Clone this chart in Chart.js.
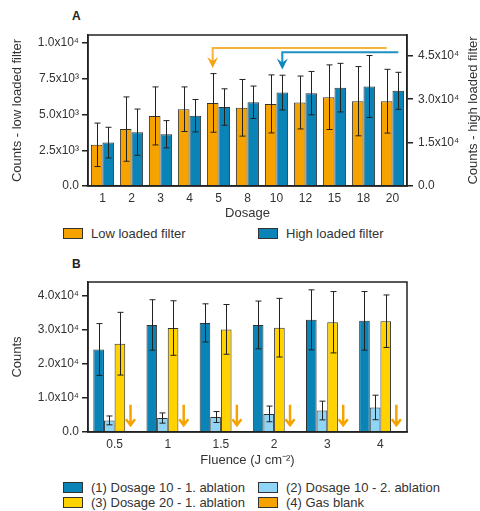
<!DOCTYPE html>
<html>
<head>
<meta charset="utf-8">
<script src="https://cdn.jsdelivr.net/npm/chart.js@4"></script>
<style>
    body { margin: 0; background: #fff; font-family: "Liberation Sans", Arial, sans-serif; color: #333; }
    #wrap { position: relative; width: 480px; height: 511px; }
    canvas { position: absolute; left: 0; }
    .panel { position: absolute; font-weight: bold; font-size: 12px; color: #222; }
    .leg { position: absolute; font-size: 13px; line-height: 15px; height: 15px; white-space: nowrap; display: flex; align-items: center; }
    .leg i { display: inline-block; box-sizing: border-box; width: 20px; height: 11px; border: 1px solid #333; margin-right: 8px; }
</style>
</head>
<body>
<div id="wrap">
    <div class="panel" style="left:72px; top:9px;">A</div>
    <canvas id="chartA" width="480" height="225" style="top:0;"></canvas>
    <div class="leg" style="left:63px; top:226px;"><i style="background:#F6A300"></i>Low loaded filter</div>
    <div class="leg" style="left:258px; top:226px;"><i style="background:#0A84B6"></i>High loaded filter</div>

    <div class="panel" style="left:72px; top:257px;">B</div>
    <canvas id="chartB" width="480" height="227" style="top:245px;"></canvas>
    <div class="leg" style="left:63px; top:480px;"><i style="background:#0A84B6"></i>(1) Dosage 10 - 1. ablation</div>
    <div class="leg" style="left:258px; top:480px;"><i style="background:#8FD6F6"></i>(2) Dosage 10 - 2. ablation</div>
    <div class="leg" style="left:63px; top:495px;"><i style="background:#FFD200"></i>(3) Dosage 20 - 1. ablation</div>
    <div class="leg" style="left:258px; top:495px;"><i style="background:#F6A300"></i>(4) Gas blank</div>
</div>
<script>
// Panel A - counts per dosage
const dosages = ['1', '2', '3', '4', '5', '8', '10', '12', '15', '18', '20'];
const lowLoaded = [2880, 3980, 4900, 5370, 5810, 5470, 5740, 5840, 6210, 5930, 5930];
const lowLoadedErr = [1520, 2250, 2030, 1560, 2050, 1980, 2030, 1850, 2260, 2420, 2230];
const highLoaded = [15000, 18600, 17900, 24300, 27300, 28950, 32300, 32100, 34000, 34400, 32900];
const highLoadedErr = [5300, 8000, 4700, 5600, 6300, 5600, 6000, 7500, 8400, 10700, 6400];
const lowTicks = [0, 2500, 5000, 7500, 10000];
const highTicks = [0, 15000, 30000, 45000];
// dosage where each series levels off (marked with an arrow)
const plateauStart = ['5', '10'];

// Panel B - counts per fluence
const fluences = ['0.5', '1', '1.5', '2', '3', '4'];
const dose10First = [24200, 31400, 32000, 31400, 32900, 32600];
const dose10FirstErr = [7600, 7400, 5600, 7000, 8800, 8600];
const dose10Second = [3400, 4100, 4400, 5300, 6300, 7200];
const dose10SecondErr = [1300, 1500, 1600, 2300, 2750, 3600];
const dose20First = [25900, 30500, 30100, 30600, 32200, 32500];
const dose20FirstErr = [9200, 8000, 7300, 8600, 9000, 7700];
const gasBlank = [8000, 8000, 8000, 8000, 8000, 8000]; // below detection, drawn as arrows
const fluenceTicks = [0, 10000, 20000, 30000, 40000];

const ORANGE = '#F6A300';
const BLUE = '#0A84B6';
const LIGHT_BLUE = '#8FD6F6';
const YELLOW = '#FFD200';
const INK = '#222';
const TEXT = '#333';

Chart.defaults.font.family = "'Liberation Sans', Arial, sans-serif";
Chart.defaults.color = TEXT;

const SUP = { 3: '\u00B3', 4: '\u2074' };
const sci = (v) => {
    if (v === 0) return '0.0';
    const e = Math.floor(Math.log10(v) + 1e-9);
    return (v / Math.pow(10, e)).toFixed(1) + 'x10' + SUP[e];
};

// box around the plot area
const frame = {
    id: 'frame',
    afterDraw(chart) {
        const { ctx, chartArea: a } = chart;
        ctx.save();
        ctx.strokeStyle = INK;
        ctx.lineWidth = 1.5;
        ctx.strokeRect(a.left, a.top, a.right - a.left, a.bottom - a.top);
        ctx.restore();
    }
};

// right axis title, reading bottom-to-top like the left one
const rightTitle = {
    id: 'rightTitle',
    afterDraw(chart, args, opts) {
        const { ctx, chartArea: a } = chart;
        ctx.save();
        ctx.translate(chart.width - 7, (a.top + a.bottom) / 2);
        ctx.rotate(-Math.PI / 2);
        ctx.font = "13px 'Liberation Sans', Arial, sans-serif";
        ctx.fillStyle = TEXT;
        ctx.textAlign = 'center';
        ctx.textBaseline = 'middle';
        ctx.fillText(opts.text, 0, 0);
        ctx.restore();
    }
};

// symmetric error bars from dataset.errors
const errorBars = {
    id: 'errorBars',
    afterDatasetsDraw(chart) {
        const ctx = chart.ctx;
        chart.data.datasets.forEach((ds, i) => {
            if (!ds.errors) return;
            const meta = chart.getDatasetMeta(i);
            const scale = chart.scales[meta.yAxisID];
            ctx.save();
            ctx.strokeStyle = INK;
            ctx.lineWidth = 1;
            meta.data.forEach((bar, j) => {
                const v = ds.data[j], e = ds.errors[j];
                const yTop = scale.getPixelForValue(v + e);
                const yBot = scale.getPixelForValue(Math.max(v - e, 0));
                const x = Math.round(bar.x) + 0.5;
                ctx.beginPath();
                ctx.moveTo(x, yTop); ctx.lineTo(x, yBot);
                ctx.moveTo(x - 3, yTop); ctx.lineTo(x + 3, yTop);
                ctx.moveTo(x - 3, yBot); ctx.lineTo(x + 3, yBot);
                ctx.stroke();
            });
            ctx.restore();
        });
    }
};

// bent arrows in panel A: from the last dosage back to the plateau start
const plateauArrows = {
    id: 'plateauArrows',
    afterDatasetsDraw(chart) {
        const ctx = chart.ctx;
        const y = chart.scales.y;
        const styles = [
            { line: '#F7B43C', head: '#F5A418', level: 9650, tip: 8250 },
            { line: '#1E90C4', head: '#0F86BA', level: 9350, tip: 8150 }
        ];
        plateauStart.forEach((dose, i) => {
            const meta = chart.getDatasetMeta(i);
            const xs = meta.data[dosages.indexOf(dose)].x;
            const xe = meta.data[meta.data.length - 1].x;
            const yl = y.getPixelForValue(styles[i].level);
            const yt = y.getPixelForValue(styles[i].tip);
            ctx.save();
            ctx.strokeStyle = styles[i].line;
            ctx.lineWidth = 2;
            ctx.beginPath();
            ctx.moveTo(xe, yl); ctx.lineTo(xs, yl); ctx.lineTo(xs, yt - 6);
            ctx.stroke();
            ctx.fillStyle = styles[i].head;
            ctx.beginPath();
            ctx.moveTo(xs, yt);
            ctx.lineTo(xs - 5.5, yt - 11);
            ctx.lineTo(xs, yt - 7);
            ctx.lineTo(xs + 5.5, yt - 11);
            ctx.closePath();
            ctx.fill();
            ctx.restore();
        });
    }
};

// gas blank drawn as downward arrows in panel B
const blankArrows = {
    id: 'blankArrows',
    afterDatasetsDraw(chart) {
        const ctx = chart.ctx;
        const y = chart.scales.y;
        chart.data.datasets.forEach((ds, i) => {
            if (!ds.asArrow) return;
            const meta = chart.getDatasetMeta(i);
            ctx.save();
            ctx.strokeStyle = ORANGE;
            ctx.lineWidth = 2.5;
            ctx.lineJoin = 'miter';
            meta.data.forEach((bar, j) => {
                const x = bar.x;
                const top = y.getPixelForValue(ds.data[j]);
                const tip = y.getPixelForValue(1700);
                ctx.beginPath();
                ctx.moveTo(x, top); ctx.lineTo(x, tip - 1);
                ctx.moveTo(x - 4.5, tip - 7); ctx.lineTo(x, tip - 1); ctx.lineTo(x + 4.5, tip - 7);
                ctx.stroke();
            });
            ctx.restore();
        });
    }
};

const yAxis = (opts) => ({
    min: 0,
    max: opts.max,
    position: opts.position,
    afterFit: (s) => { s.width = opts.width; },
    afterBuildTicks: (s) => { s.ticks = opts.ticks.map(v => ({ value: v })); },
    ticks: { callback: (v) => sci(v), font: { size: 12 }, color: TEXT, padding: opts.padding },
    grid: { drawOnChartArea: false, tickLength: 6, color: INK, lineWidth: 1.5 },
    border: { color: INK, width: 1.5 },
    title: { display: !!opts.title, text: opts.title, font: { size: 13 }, color: TEXT, padding: { top: opts.titlePad, bottom: 0 } }
});

const xAxis = (title, height, titlePad) => ({
    afterFit: (s) => { s.height = height; },
    grid: { display: false, drawTicks: false },
    border: { color: INK, width: 1.5 },
    ticks: { font: { size: 12 }, color: TEXT, padding: 5, maxRotation: 0, autoSkip: false },
    title: { display: true, text: title, font: { size: 13 }, color: TEXT, padding: { top: 0, bottom: titlePad } }
});

const bars = (label, data, color, axis, errors) => ({
    label, data, errors, yAxisID: axis,
    backgroundColor: color,
    borderColor: '#333',
    borderWidth: 1,
    categoryPercentage: 0.8,
    barPercentage: 1.0
});

new Chart(document.getElementById('chartA'), {
    type: 'bar',
    data: {
        labels: dosages,
        datasets: [
            bars('Low loaded filter', lowLoaded, ORANGE, 'y', lowLoadedErr),
            bars('High loaded filter', highLoaded, BLUE, 'y1', highLoadedErr)
        ]
    },
    options: {
        responsive: false,
        animation: false,
        layout: { padding: { top: 35, left: 0, right: 0, bottom: 0 } },
        plugins: {
            legend: { display: false },
            tooltip: { enabled: false },
            rightTitle: { text: 'Counts - high loaded filter' }
        },
        scales: {
            x: xAxis('Dosage', 39, 4),
            y: yAxis({ position: 'left', max: 10560, ticks: lowTicks, width: 88, padding: 3, title: 'Counts - low loaded filter', titlePad: 10 }),
            y1: yAxis({ position: 'right', max: 52200, ticks: highTicks, width: 73, padding: 5, title: '', titlePad: 0 })
        }
    },
    plugins: [errorBars, plateauArrows, frame, rightTitle]
});

const blank = bars('(4) Gas blank', gasBlank, 'rgba(0,0,0,0)', 'y');
blank.borderWidth = 0;
blank.asArrow = true;

new Chart(document.getElementById('chartB'), {
    type: 'bar',
    data: {
        labels: fluences,
        datasets: [
            bars('(1) Dosage 10 - 1. ablation', dose10First, BLUE, 'y', dose10FirstErr),
            bars('(2) Dosage 10 - 2. ablation', dose10Second, LIGHT_BLUE, 'y', dose10SecondErr),
            bars('(3) Dosage 20 - 1. ablation', dose20First, YELLOW, 'y', dose20FirstErr),
            blank
        ]
    },
    options: {
        responsive: false,
        animation: false,
        layout: { padding: { top: 37, left: 0, right: 73, bottom: 0 } },
        plugins: { legend: { display: false }, tooltip: { enabled: false } },
        scales: {
            x: xAxis('Fluence (J cm\u207B\u00B2)', 40, 3.5),
            y: yAxis({ position: 'left', max: 44000, ticks: fluenceTicks, width: 88, padding: 3, title: 'Counts', titlePad: 10 })
        }
    },
    plugins: [errorBars, blankArrows, frame]
});
</script>
</body>
</html>
